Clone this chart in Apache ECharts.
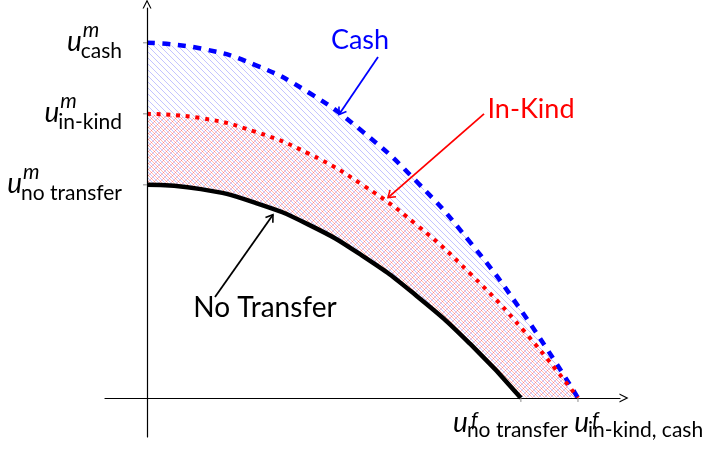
<!DOCTYPE html>
<html>
<head>
<meta charset="utf-8">
<script src="https://cdn.jsdelivr.net/npm/echarts@6/dist/echarts.min.js"></script>
<style>
  html, body { margin: 0; padding: 0; background: #fff; }
  #chart { width: 709px; height: 452px; }
</style>
</head>
<body>
<div id="chart"></div>
<script>
// utility possibility frontier
const curveX = [0, 0.5, 1, 1.5, 2, 2.5, 3, 3.5, 4];
const cashU = [5, 4.92, 4.69, 4.3, 3.75, 3.05, 2.19, 1.17, 0];
const inKindU = [4, 3.94, 3.75, 3.44, 3, 2.44, 1.75, 0.94, 0];
const noTransferX = [0, 0.5, 1, 1.5, 2, 2.5, 3, 3.47];
const noTransferU = [3, 2.94, 2.75, 2.44, 2, 1.44, 0.76, 0];

// tick labels (u^m_... on the y axis, u^f_... on the x axis)
const yTickValues = [5, 4, 3];
const yTickLabels = ["cash", "in-kind", "no transfer"];
const xTickValues = [3.47, 4];
const xTickLabels = ["no transfer", "in-kind, cash"];

// annotation names, where the text sits, and arrow from -> to
const noteNames = ["Cash", "In-Kind", "No Transfer"];
const noteText = [[1.977, 5.03], [3.564, 4.06], [1.095, 1.27]];
const noteFrom = [[2.144, 4.8], [3.128, 4.0], [0.631, 1.42]];
const noteTo = [[1.782, 3.99], [2.237, 2.82], [1.169, 2.58]];
const noteColors = ["#0000ff", "#ff0000", "#000000"];

const BIG = "italic 28px Lato";
const SUB = "21px Lato";
const SUP = "italic 21px Lato";

const mctx = document.createElement("canvas").getContext("2d");
function tw(text, font) {
  mctx.font = font;
  return mctx.measureText(text).width;
}

function zip(xs, ys) {
  return xs.map((x, i) => [x, ys[i]]);
}

// hatching under a curve, clipped by hand (region is convex)
// cash: blue "\" lines; in-kind: red cross hatch
const hatchCurves = [zip(curveX, cashU), zip(curveX, inKindU), zip(curveX, inKindU)];
const hatchColors = ["rgba(0,0,255,0.26)", "rgba(255,0,0,0.3)", "rgba(255,0,0,0.3)"];
const hatchDir = [1, -1, 1];
const hatchPhase = [0, 0, 3];
function renderHatch(params, api) {
  const i = params.dataIndex;
  const pts = hatchCurves[i].map((d) => api.coord(d));
  const o = api.coord([0, 0]);
  const x0 = o[0], x1 = pts[pts.length - 1][0], yb = o[1];
  const ytop = Math.min(...pts.map((p) => p[1]));
  function topAt(px) {
    for (let k = 0; k < pts.length - 1; k++) {
      const a = pts[k], b = pts[k + 1];
      if (px >= a[0] && px <= b[0]) {
        return a[1] + ((px - a[0]) / (b[0] - a[0])) * (b[1] - a[1]);
      }
    }
    return yb;
  }
  function inside(px, py) {
    return px >= x0 && px <= x1 && py <= yb && py >= topAt(px);
  }
  const gap = 6;
  const sgn = hatchDir[i];
  let path = "";
  const cMin = sgn > 0 ? ytop - x1 : ytop + x0;
  const cMax = sgn > 0 ? yb - x0 : yb + x1;
  for (let c = Math.floor(cMin / gap) * gap + hatchPhase[i]; c <= cMax; c += gap) {
    let first = null, last = null;
    for (let px = x0; px <= x1; px += 0.5) {
      const py = sgn * px + c;
      if (inside(px, py)) {
        if (!first) first = [px, py];
        last = [px, py];
      }
    }
    if (first && last && last[0] > first[0]) {
      path += "M" + first[0] + "," + first[1] + "L" + last[0] + "," + last[1];
    }
  }
  return {
    type: "path",
    shape: { pathData: path },
    style: { stroke: api.visual("color"), lineWidth: 0.9, fill: "none" },
  };
}

// text placed by baseline (zrender draws around the middle)
function txt(str, font, size, x, baseline, align, color) {
  return {
    type: "text",
    style: {
      text: str,
      font: font,
      x: x,
      y: baseline - 0.32 * size,
      align: align,
      verticalAlign: "middle",
      fill: color || "#000",
    },
  };
}

function renderYLabel(params, api) {
  const i = api.value(2);
  const p = api.coord([0, api.value(1)]);
  const sub = yTickLabels[i];
  const subLeft = p[0] - 25 - tw(sub, SUB);
  return {
    type: "group",
    children: [
      { type: "line", shape: { x1: p[0] - 4, y1: p[1], x2: p[0], y2: p[1] }, style: { stroke: "#888", lineWidth: 1 } },
      txt("u", BIG, 28, subLeft + 1, p[1] + 8, "right"),
      txt(sub, SUB, 21, subLeft, p[1] + 15, "left"),
      txt("m", SUP, 21, subLeft + 2, p[1] - 6, "left"),
    ],
  };
}

const xLabelShift = [-54, 10];
function renderXLabel(params, api) {
  const i = api.value(2);
  const p = api.coord([api.value(0), 0]);
  const subLeft = p[0] + xLabelShift[i];
  return {
    type: "group",
    children: [
      { type: "line", shape: { x1: p[0], y1: p[1], x2: p[0], y2: p[1] + 4 }, style: { stroke: "#888", lineWidth: 1 } },
      txt("u", BIG, 28, subLeft + 1, p[1] + 34, "right"),
      txt(xTickLabels[i], SUB, 21, subLeft, p[1] + 39, "left"),
      txt("f", SUP, 21, subLeft + 4, p[1] + 29, "left"),
    ],
  };
}

function renderNote(params, api) {
  const i = params.dataIndex;
  const t = api.coord(noteText[i]);
  const a = api.coord(noteFrom[i]);
  const b = api.coord(noteTo[i]);
  const ang = Math.atan2(b[1] - a[1], b[0] - a[0]);
  const L = 8, spread = 0.6;
  const h1 = [b[0] - L * Math.cos(ang - spread), b[1] - L * Math.sin(ang - spread)];
  const h2 = [b[0] - L * Math.cos(ang + spread), b[1] - L * Math.sin(ang + spread)];
  const col = noteColors[i];
  const size = i === 2 ? 28 : 27;
  return {
    type: "group",
    children: [
      { type: "line", shape: { x1: a[0], y1: a[1], x2: b[0], y2: b[1] }, style: { stroke: col, lineWidth: 1.8 } },
      { type: "polyline", shape: { points: [h1, b, h2] }, style: { stroke: col, lineWidth: 1.6, fill: null } },
      {
        type: "text",
        style: { text: noteNames[i], font: size + "px Lato", x: t[0], y: t[1], align: "center", verticalAlign: "middle", fill: col },
      },
    ],
  };
}

const axisArrow = "path://M0,10 L5,0 L10,10 L8.6,10 L5,2.8 L1.4,10 Z";

let myChart = echarts.init(document.getElementById("chart"));
myChart.setOption({
  animation: false,
  grid: { left: 105, right: 89, top: 8, bottom: 15 },
  xAxis: {
    type: "value",
    min: -0.39,
    max: 4.39,
    z: 10,
    splitLine: { show: false },
    axisTick: { show: false },
    axisLabel: { show: false },
    axisLine: {
      onZero: true,
      symbol: ["none", axisArrow],
      symbolSize: [9, 9],
      symbolOffset: [0, 4],
      lineStyle: { color: "#000", width: 1.2 },
    },
  },
  yAxis: {
    type: "value",
    min: -0.55,
    max: 5.49,
    z: 10,
    splitLine: { show: false },
    axisTick: { show: false },
    axisLabel: { show: false },
    axisLine: {
      onZero: true,
      symbol: ["none", axisArrow],
      symbolSize: [9, 9],
      symbolOffset: [0, 4],
      lineStyle: { color: "#000", width: 1.2 },
    },
  },
  series: [
    {
      type: "custom",
      data: hatchColors.map((c) => ({ value: [0, 0], itemStyle: { color: c } })),
      renderItem: renderHatch,
      clip: false,
      silent: true,
      z: 1,
    },
    {
      name: "Cash",
      type: "line",
      data: zip(curveX, cashU),
      smooth: true,
      showSymbol: false,
      lineStyle: { color: "#0000ff", width: 4.5, type: [8, 7.5], cap: "butt" },
      z: 3,
    },
    {
      name: "In-Kind",
      type: "line",
      data: zip(curveX, inKindU),
      smooth: true,
      showSymbol: false,
      lineStyle: { color: "#ff0000", width: 4, type: [4, 5.7], cap: "butt" },
      z: 3,
    },
    {
      name: "No Transfer",
      type: "line",
      data: zip(noTransferX, noTransferU),
      smooth: true,
      showSymbol: false,
      lineStyle: { color: "#000", width: 4.5 },
      areaStyle: { color: "#fff", opacity: 1 },
      z: 2,
    },
    {
      type: "custom",
      data: yTickValues.map((v, i) => [0, v, i]),
      renderItem: renderYLabel,
      clip: false,
      silent: true,
      z: 11,
    },
    {
      type: "custom",
      data: xTickValues.map((v, i) => [v, 0, i]),
      renderItem: renderXLabel,
      clip: false,
      silent: true,
      z: 11,
    },
    {
      type: "custom",
      data: noteNames.map((n, i) => [noteText[i][0], noteText[i][1]]),
      renderItem: renderNote,
      clip: false,
      silent: true,
      z: 12,
    },
  ],
});
</script>
</body>
</html>
